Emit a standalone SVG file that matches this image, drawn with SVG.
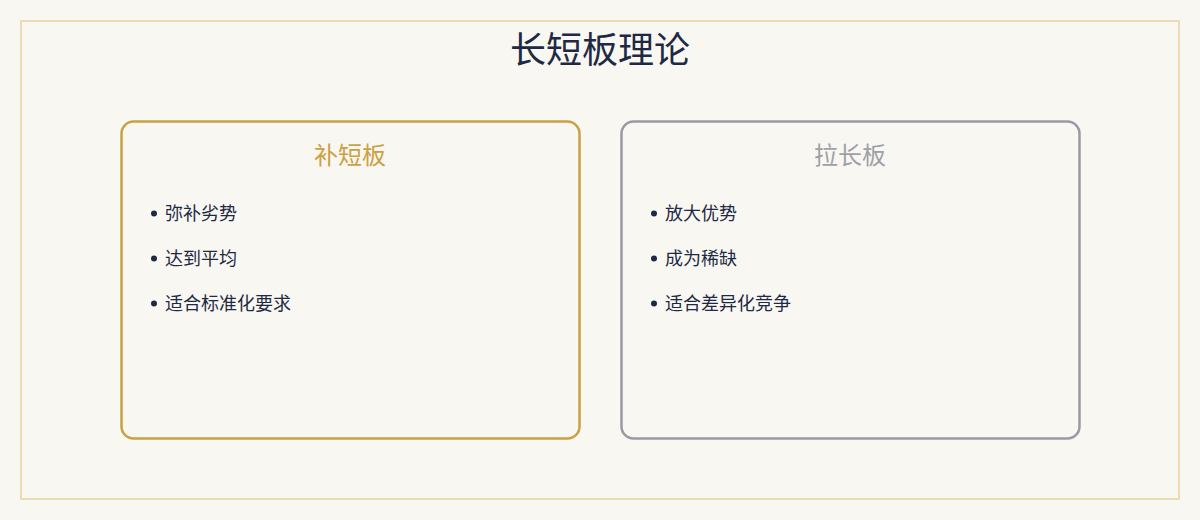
<svg xmlns="http://www.w3.org/2000/svg" width="1200" height="520" viewBox="0 0 1200 520">
<style>
text{font-family:"Noto Sans CJK SC","Noto Sans",sans-serif}
.title{font-size:36px;fill:#1e2a44;text-anchor:middle}
.card{fill:#f9f7f2;stroke-width:2.5}
.ct{font-size:24px;text-anchor:middle}
.item{font-size:18px;fill:#1e2a44}
.dot{fill:#1e2a44}
</style>
<rect x="0" y="0" width="1200" height="520" fill="#f9f7f2"/>
<rect x="21" y="21" width="1158" height="478" fill="none" stroke="#ecdcb4" stroke-width="2"/>
<text class="title" x="600" y="63">长短板理论</text>
<g id="short">
<rect class="card" x="121.5" y="121.5" width="458" height="317" rx="12" stroke="#caa144"/>
<text class="ct" x="350" y="164" fill="#caa144">补短板</text>
<circle class="dot" cx="154" cy="213.5" r="3"/>
<text class="item" x="165" y="220">弥补劣势</text>
<circle class="dot" cx="154" cy="258.5" r="3"/>
<text class="item" x="165" y="265">达到平均</text>
<circle class="dot" cx="154" cy="303.5" r="3"/>
<text class="item" x="165" y="310">适合标准化要求</text>
</g>
<g id="long">
<rect class="card" x="621.5" y="121.5" width="458" height="317" rx="12" stroke="#999ba4"/>
<text class="ct" x="850" y="164" fill="#9fa0a7">拉长板</text>
<circle class="dot" cx="654" cy="213.5" r="3"/>
<text class="item" x="665" y="220">放大优势</text>
<circle class="dot" cx="654" cy="258.5" r="3"/>
<text class="item" x="665" y="265">成为稀缺</text>
<circle class="dot" cx="654" cy="303.5" r="3"/>
<text class="item" x="665" y="310">适合差异化竞争</text>
</g>
<g id="connectors"/>
</svg>
